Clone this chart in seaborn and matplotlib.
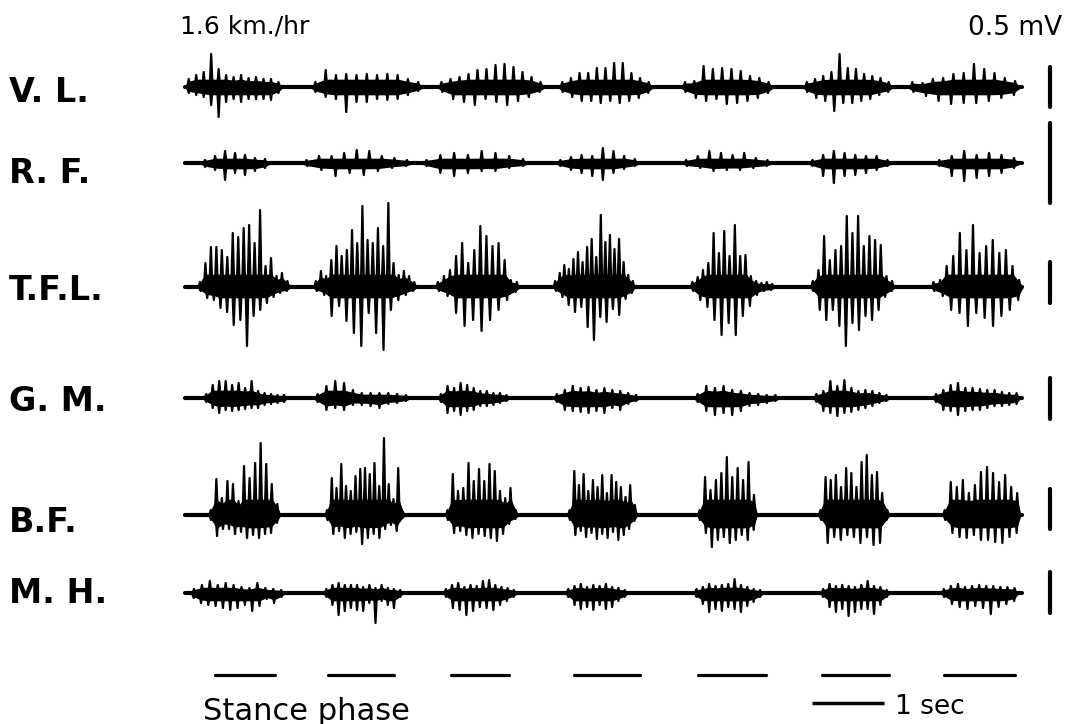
import numpy as np
import pandas as pd
import matplotlib
matplotlib.use("Agg")
import matplotlib.pyplot as plt
import seaborn as sns

# ---------------------------------------------------------------- data
channels = ["V. L.", "R. F.", "T.F.L.", "G. M.", "B.F.", "M. H."]
speed_label = "1.6 km./hr"
cal_label = "0.5 mV"
time_label = "1 sec"
stance_label = "Stance phase"
record_end = 11.63          # s
time_bar = (8.71, 9.71)     # 1 s calibration

# stance phases (s)
stance_on = [0.42, 1.99, 3.69, 5.40, 7.13, 8.85, 10.54]
stance_off = [1.25, 2.90, 4.50, 6.32, 8.07, 9.78, 11.53]

# burst onsets / offsets (s)
vl_on = [0.00, 1.74, 3.50, 5.18, 6.88, 8.58, 10.03]
vl_off = [1.35, 3.31, 5.00, 6.50, 8.17, 9.83, 11.60]
rf_on = [0.21, 1.60, 3.26, 5.14, 6.88, 8.64, 10.39]
rf_off = [1.18, 3.17, 4.79, 6.32, 8.17, 9.83, 11.60]
tfl_on = [0.17, 1.78, 3.47, 5.11, 7.01, 8.68, 10.35]
tfl_off = [1.46, 3.22, 4.65, 6.25, 8.19, 9.86, 11.63]
gm_on = [0.25, 1.78, 3.51, 5.11, 7.06, 8.72, 10.38]
gm_off = [1.42, 3.13, 4.51, 6.32, 8.26, 9.79, 11.60]
bf_on = [0.32, 1.94, 3.61, 5.31, 7.11, 8.79, 10.51]
bf_off = [1.32, 3.06, 4.63, 6.28, 7.94, 9.79, 11.60]
mh_on = [0.07, 1.92, 3.58, 5.28, 7.06, 8.82, 10.49]
mh_off = [1.39, 3.03, 4.61, 6.15, 8.03, 9.79, 11.57]

# spike amplitudes per burst (trace units; each trace's 0.5 mV bar = cal_units)
vl_up = [[8, 12, 15, 33, 18, 12, 10, 12, 9, 10, 8, 8, 5],
         [5, 17, 12, 13, 12, 13, 12, 13, 12, 8, 5],
         [5, 8, 10, 13, 17, 18, 22, 23, 20, 15, 10, 5],
         [5, 9, 14, 14, 19, 19, 24, 24, 14, 9, 5],
         [5, 6, 21, 18, 19, 18, 16, 11, 9, 5],
         [5, 8, 11, 15, 33, 19, 18, 13, 11, 9, 5],
         [5, 4, 8, 9, 13, 14, 23, 18, 14, 9, 6]]
vl_dn = [[6, 8, 10, 18, 30, 15, 12, 15, 12, 12, 12, 13, 6],
         [5, 10, 12, 25, 15, 15, 12, 13, 12, 8, 4],
         [5, 12, 15, 18, 12, 15, 18, 14, 10, 5],
         [5, 10, 14, 14, 16, 14, 16, 14, 11, 6],
         [5, 11, 14, 12, 17, 16, 14, 11, 6],
         [5, 11, 14, 24, 16, 16, 14, 12, 8, 5],
         [5, 9, 14, 17, 16, 16, 14, 11, 8]]
rf_up = [[3, 7, 12, 10, 8, 5, 4],
         [3, 7, 7, 10, 13, 12, 7, 5, 3],
         [3, 8, 10, 8, 12, 10, 7, 4],
         [3, 6, 8, 7, 15, 12, 7, 4],
         [3, 7, 12, 10, 8, 10, 5, 3],
         [3, 8, 12, 10, 8, 7, 7, 3],
         [3, 7, 12, 8, 10, 8, 5]]
rf_dn = [[4, 7, 17, 10, 12, 8, 5],
         [3, 7, 13, 10, 12, 8, 5, 3],
         [3, 10, 13, 10, 8, 8, 5, 3],
         [3, 7, 10, 13, 17, 10, 6, 3],
         [3, 5, 8, 7, 7, 5, 3],
         [3, 13, 20, 13, 12, 10, 7, 3],
         [3, 13, 18, 15, 13, 10, 5]]
tfl_up = [[5, 24, 40, 40, 37, 30, 54, 50, 59, 62, 44, 77, 21, 29, 11, 14, 6],
          [6, 16, 11, 27, 41, 31, 37, 57, 44, 81, 47, 44, 59, 41, 84, 24, 12, 16, 11, 5],
          [5, 11, 17, 31, 44, 24, 37, 61, 51, 41, 44, 27, 7, 5],
          [6, 14, 22, 18, 28, 35, 25, 40, 48, 30, 72, 45, 52, 38, 48, 25, 12, 6],
          [5, 10, 17, 24, 54, 34, 56, 31, 62, 31, 32, 11, 6, 4, 5, 3],
          [6, 17, 51, 27, 37, 41, 71, 54, 71, 41, 51, 47, 42, 11, 6],
          [5, 7, 21, 31, 54, 37, 62, 34, 41, 47, 34, 37, 21, 7]]
tfl_dn = [[4, 11, 13, 21, 25, 38, 33, 59, 29, 23, 16, 10, 6, 4],
          [4, 8, 29, 19, 34, 46, 59, 26, 46, 63, 23, 13, 8, 4],
          [4, 9, 26, 39, 33, 44, 33, 23, 13, 5],
          [4, 10, 18, 25, 20, 40, 53, 30, 35, 22, 28, 12, 6],
          [4, 13, 20, 33, 48, 36, 48, 29, 19, 8, 4, 3],
          [4, 23, 33, 23, 39, 59, 36, 43, 29, 33, 23, 10, 4],
          [4, 9, 23, 26, 39, 26, 31, 39, 29, 23, 13]]
gm_up = [[4, 13, 17, 17, 13, 15, 10, 17, 7, 5, 4, 3, 3],
         [4, 12, 17, 15, 8, 5, 5, 5, 5, 4, 3],
         [4, 12, 10, 15, 13, 10, 7, 7, 5, 5, 3],
         [4, 8, 12, 10, 11, 8, 10, 8, 7, 5, 3],
         [4, 12, 10, 12, 8, 7, 5, 4, 3, 3],
         [4, 7, 17, 12, 18, 10, 7, 8, 7, 5, 3],
         [4, 8, 13, 15, 10, 10, 9, 8, 8, 6, 5, 5]]
gm_dn = [[4, 10, 15, 12, 13, 12, 11, 10, 10, 7, 6, 5, 4],
         [4, 12, 10, 12, 7, 7, 8, 10, 6, 5, 3],
         [4, 15, 13, 17, 13, 12, 8, 8, 7, 5, 3],
         [4, 12, 13, 14, 15, 13, 15, 10, 12, 6, 3],
         [4, 13, 17, 15, 17, 13, 8, 7, 5, 3],
         [4, 13, 15, 18, 15, 14, 12, 10, 8, 5, 3],
         [4, 12, 13, 17, 13, 12, 12, 10, 8, 8, 7, 6]]
bf_up = [[5, 36, 17, 34, 31, 14, 49, 37, 52, 72, 51, 31, 11],
         [5, 37, 27, 51, 29, 24, 39, 46, 47, 41, 52, 29, 77, 31, 16, 47, 3],
         [5, 41, 24, 27, 52, 34, 46, 34, 51, 44, 24, 17, 27, 5],
         [5, 44, 30, 41, 24, 35, 28, 40, 22, 40, 33, 28, 18, 30, 10],
         [5, 38, 25, 35, 42, 58, 38, 47, 35, 53, 20],
         [5, 38, 35, 40, 28, 47, 42, 28, 53, 60, 40, 43, 22, 5],
         [5, 33, 28, 35, 22, 30, 43, 48, 42, 33, 40, 28, 22]]
bf_dn = [[5, 21, 14, 14, 19, 17, 23, 20, 23, 19, 18, 8],
         [5, 19, 16, 23, 19, 17, 29, 23, 19, 23, 14, 10, 16, 3],
         [5, 18, 16, 20, 23, 19, 21, 23, 26, 19, 9, 4],
         [5, 20, 16, 22, 18, 24, 19, 23, 17, 25, 20, 14, 6],
         [5, 18, 32, 25, 22, 28, 25, 20, 25, 15],
         [5, 28, 22, 25, 20, 22, 28, 22, 30, 28, 5],
         [5, 18, 22, 23, 20, 25, 25, 27, 28, 22, 18]]
mh_up = [[4, 8, 12, 8, 10, 8, 6, 5, 10, 5, 4, 3],
         [4, 8, 10, 8, 8, 8, 6, 8, 5, 8, 5, 4, 3],
         [4, 8, 10, 6, 8, 7, 12, 13, 8, 6, 5, 3],
         [4, 7, 9, 6, 8, 7, 9, 6, 5, 3],
         [4, 6, 9, 7, 8, 9, 14, 8, 6, 4, 3],
         [4, 9, 7, 8, 7, 6, 8, 12, 7, 6, 3],
         [4, 7, 9, 6, 7, 8, 7, 7, 6, 6, 5]]
mh_dn = [[5, 10, 12, 13, 15, 17, 15, 12, 18, 13, 6, 10, 4],
         [4, 12, 22, 18, 15, 17, 18, 10, 30, 8, 12, 15, 4],
         [4, 15, 17, 22, 18, 14, 15, 17, 12, 8, 4],
         [4, 12, 16, 14, 17, 12, 16, 14, 8, 4],
         [4, 11, 19, 16, 18, 14, 16, 19, 13, 9, 4],
         [4, 14, 19, 16, 23, 19, 16, 16, 21, 12, 4],
         [4, 11, 14, 16, 13, 15, 21, 14, 11, 8]]

# limit of the dense background activity within bursts (up, down), trace units
core_up = [7, 4, 12, 7, 15, 5]
core_dn = [7, 5, 10, 8, 12, 7]
# length of the 0.5 mV calibration bar for each trace, trace units
cal_units = [40, 80, 41, 41, 40, 41]

ons = [vl_on, rf_on, tfl_on, gm_on, bf_on, mh_on]
offs = [vl_off, rf_off, tfl_off, gm_off, bf_off, mh_off]
ups = [vl_up, rf_up, tfl_up, gm_up, bf_up, mh_up]
dns = [vl_dn, rf_dn, tfl_dn, gm_dn, bf_dn, mh_dn]

# ---------------------------------------------------------------- layout
W, H, DPI = 1076, 724, 100
PX_PER_S = 72.0
T0_PX = 185.0
baseline_y = [87, 163, 287, 398, 515, 593]
cal_center_y = [87, 163, 282, 398, 509, 592]
label_base_y = [102, 183, 300, 411, 532, 603]
cal_bar_x = (1050 - T0_PX) / PX_PER_S
stance_y = 675
time_bar_y = 703
spike_half = 0.02     # half-width of a spike stroke (s)
core_frac = 0.6       # share of a spike that belongs to the dense core

sns.set_theme(style="white")
plt.rcParams["font.family"] = ["DejaVu Sans"]

fig = plt.figure(figsize=(W / DPI, H / DPI), dpi=DPI)
ax = fig.add_axes([0, 0, 1, 1])
ax.set_xlim(-T0_PX / PX_PER_S, (W - T0_PX) / PX_PER_S)
ax.set_ylim(H, 0)
ax.axis("off")

base_rows, burst_rows = [], []
for ci, ch in enumerate(channels):
    y0 = baseline_y[ci]
    base_rows += [dict(t=0.0, y=y0, unit=ch), dict(t=record_end, y=y0, unit=ch)]
    for k in range(len(ons[ci])):
        on, off = ons[ci][k], offs[ci][k]
        up, dn = ups[ci][k], dns[ci][k]
        dur = off - on
        tu = [on + (i + 0.5) / len(up) * dur for i in range(len(up))]
        td = [on + (j + 0.5) / len(dn) * dur for j in range(len(dn))]
        ev = sorted([(t, u) for t, u in zip(tu, up)] + [(t, -d) for t, d in zip(td, dn)])
        pts = [(on, 0.0)]
        for t, v in ev:
            pts += [(t - spike_half, 0.0), (t, v), (t + spike_half, 0.0)]
        pts.append((off, 0.0))
        seg = f"{ch}-{k}"
        for t, v in pts:
            burst_rows.append(dict(t=t, y=y0 - v, seg=seg))
        # dense core of the burst, following the spikes
        grid = np.array(sorted([on, off] + tu + td))
        upper = np.interp(grid, [on] + tu + [off],
                          [0] + [min(u * core_frac, core_up[ci]) for u in up] + [0])
        lower = np.interp(grid, [on] + td + [off],
                          [0] + [min(d * core_frac, core_dn[ci]) for d in dn] + [0])
        ax.fill_between(grid, y0 - upper, y0 + lower, color="black", lw=1.2)

base_df = pd.DataFrame(base_rows)
burst_df = pd.DataFrame(burst_rows)

sns.lineplot(data=base_df, x="t", y="y", units="unit", estimator=None,
             sort=False, color="black", linewidth=3.0, ax=ax, legend=False)
sns.lineplot(data=burst_df, x="t", y="y", units="seg", estimator=None,
             sort=False, color="black", linewidth=1.6, ax=ax, legend=False)

# stance phase bars
st_rows = []
for k, (a, b) in enumerate(zip(stance_on, stance_off)):
    st_rows += [dict(t=a, y=stance_y, u=k), dict(t=b, y=stance_y, u=k)]
sns.lineplot(data=pd.DataFrame(st_rows), x="t", y="y", units="u", estimator=None,
             sort=False, color="black", linewidth=2.3, ax=ax, legend=False)

# 1 s bar
ax.plot(list(time_bar), [time_bar_y, time_bar_y], color="black", lw=2.5,
        solid_capstyle="butt")

# 0.5 mV calibration bars
for ci in range(len(channels)):
    c = cal_center_y[ci]
    L = cal_units[ci]
    ax.plot([cal_bar_x, cal_bar_x], [c - L / 2, c + L / 2], color="black",
            lw=3.0, solid_capstyle="round")

ax.set_xlabel("")
ax.set_ylabel("")


def ftext(xp, yp, s, **kw):
    fig.text(xp / W, 1 - yp / H, s, va="baseline", ha="left", color="black", **kw)


for ci, ch in enumerate(channels):
    ftext(9, label_base_y[ci], ch, fontsize=24, fontweight="bold")

ftext(180, 33, speed_label, fontsize=18, fontweight="medium")
ftext(968, 35, cal_label, fontsize=19, fontweight="medium")
ftext(203, 720, stance_label, fontsize=22, fontweight="medium")
ftext(895, 714, time_label, fontsize=19, fontweight="medium")

fig.savefig("out.png", dpi=DPI, facecolor="white")
